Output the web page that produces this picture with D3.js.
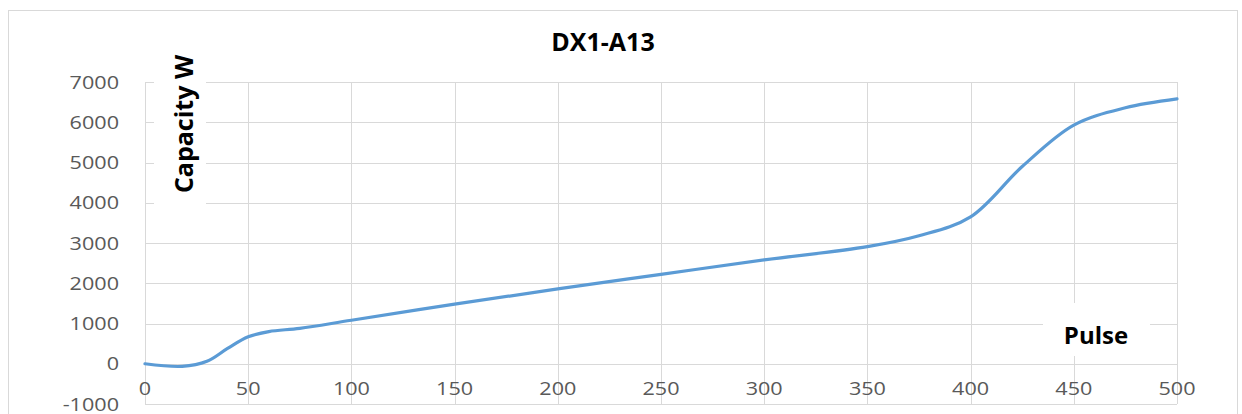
<!DOCTYPE html>
<html>
<head>
<meta charset="utf-8">
<script src="https://cdn.jsdelivr.net/npm/d3@7"></script>
<style>
  body { margin: 0; background: #fff; }
  text { font-family: "Open Sans", "Liberation Sans", sans-serif; }
</style>
</head>
<body>
<div id="chart"></div>
<script>
// data
var pulse    = [0, 18, 30, 40, 50, 60, 75, 100, 150, 200, 250, 300, 350, 375, 400, 425, 450, 475, 500];
var capacity = [0, -65, 60, 380, 670, 800, 880, 1080, 1480, 1860, 2220, 2580, 2910, 3180, 3650, 4900, 5930, 6360, 6580];
var xTicks = [0, 50, 100, 150, 200, 250, 300, 350, 400, 450, 500];
var yTicks = [-1000, 0, 1000, 2000, 3000, 4000, 5000, 6000, 7000];

var W = 1242, H = 414;
var margin = {top: 82, right: 65, bottom: 10, left: 145},
    width = 1177 - margin.left,
    height = 404 - margin.top;

var svg = d3.select("#chart")
  .append("svg")
    .attr("width", W)
    .attr("height", H);

// chart area border
svg.append("rect")
    .attr("x", 8.5).attr("y", 10.5)
    .attr("width", 1229).attr("height", 420)
    .style("fill", "none")
    .style("stroke", "#d9d9d9");

var g = svg.append("g")
    .attr("transform", "translate(" + margin.left + "," + margin.top + ")");

var x = d3.scaleLinear().domain([0, 500]).range([0, width]);
var y = d3.scaleLinear().domain([-1000, 7000]).range([height, 0]);

// gridlines
g.selectAll(".hgrid")
  .data(yTicks)
  .enter().append("line")
    .attr("x1", 0).attr("x2", width)
    .attr("y1", function(d) { return Math.round(y(d)) + 0.5; })
    .attr("y2", function(d) { return Math.round(y(d)) + 0.5; })
    .style("stroke", "#d9d9d9");
g.selectAll(".vgrid")
  .data(xTicks)
  .enter().append("line")
    .attr("y1", 0).attr("y2", height)
    .attr("x1", function(d) { return Math.round(x(d)) + 0.5; })
    .attr("x2", function(d) { return Math.round(x(d)) + 0.5; })
    .style("stroke", "#d9d9d9");

// y tick labels
g.selectAll(".ylab")
  .data(yTicks)
  .enter().append("text")
    .attr("transform", function(d) { return "translate(-26," + (y(d) + 6.5) + ") scale(1.2,1)"; })
    .style("text-anchor", "end")
    .style("font-size", "18px")
    .style("fill", "#595959")
    .text(function(d) { return d; });

// x tick labels (sit under the zero line)
g.selectAll(".xlab")
  .data(xTicks)
  .enter().append("text")
    .attr("transform", function(d) { return "translate(" + x(d) + "," + (y(0) + 31) + ") scale(1.2,1)"; })
    .style("text-anchor", "middle")
    .style("font-size", "18px")
    .style("fill", "#595959")
    .text(function(d) { return d; });

// the curve, smoothed like the spreadsheet line
var pts = pulse.map(function(p, i) { return [p, capacity[i]]; });
var line = d3.line()
    .x(function(d) { return x(d[0]); })
    .y(function(d) { return y(d[1]); })
    .curve(d3.curveCatmullRom.alpha(0.5));
g.append("path")
    .datum(pts)
    .attr("d", line)
    .style("fill", "none")
    .style("stroke", "#5b9bd5")
    .style("stroke-width", 3.2)
    .style("stroke-linecap", "round");

// title
svg.append("text")
    .attr("x", 603).attr("y", 51)
    .style("text-anchor", "middle")
    .style("font-size", "25px")
    .style("font-weight", "bold")
    .style("fill", "#000")
    .text("DX1-A13");

// axis titles with white boxes behind them
svg.append("rect").attr("x", 154).attr("y", 78).attr("width", 52).attr("height", 127).style("fill", "#fff");
svg.append("text")
    .attr("transform", "translate(193,124) rotate(-90)")
    .style("text-anchor", "middle")
    .style("font-size", "25px")
    .style("font-weight", "bold")
    .style("fill", "#000")
    .text("Capacity W");

svg.append("rect").attr("x", 1043).attr("y", 303).attr("width", 107).attr("height", 53).style("fill", "#fff");
svg.append("text")
    .attr("x", 1096).attr("y", 344)
    .style("text-anchor", "middle")
    .style("font-size", "24px")
    .style("font-weight", "bold")
    .style("fill", "#000")
    .text("Pulse");
</script>
</body>
</html>
